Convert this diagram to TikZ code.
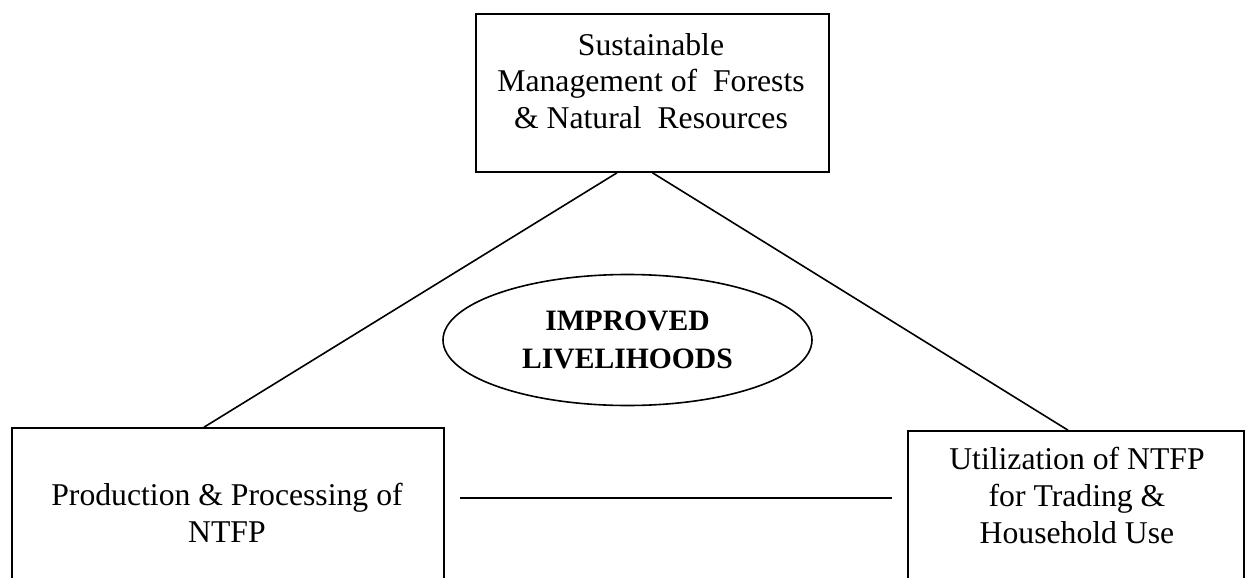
\documentclass[tikz,border=0pt]{standalone}
\usepackage{fontspec}
\setmainfont{Liberation Serif}
\usetikzlibrary{shapes.geometric}

\begin{document}
\begin{tikzpicture}
		[x=0.5pt,y=-0.5pt,line width=0.8pt,
		box/.style={draw,rectangle,inner sep=0pt},
		txt/.style={align=center,inner sep=0pt,font=\fontsize{15.85}{18.4}\selectfont}]
		\useasboundingbox (0,0) rectangle (1249,578);
		\clip (0,0) rectangle (1249,578);
		\node[box,minimum width=176.5pt,minimum height=79pt] (mgmt) at (652.5,93) {};
		\node[box,minimum width=216pt,minimum height=91pt] (prod) at (228,519) {};
		\node[box,minimum width=168pt,minimum height=89.5pt] (util) at (1076,520.5) {};
		\node[draw,ellipse,inner sep=0pt,minimum width=184.5pt,minimum height=65.5pt,
			align=center,font=\fontsize{14.8}{19}\selectfont\bfseries] (liv) at (627.5,340) {IMPROVED\\LIVELIHOODS};
		
		\node[txt] (mgmttext) at (651,81) {Sustainable\\Management of\ \ Forests\\\& Natural\ \ Resources};
		\node[txt] (prodtext) at (227,512.7) {Production \& Processing of\\NTFP};
		\node[txt] (utiltext) at (1077,495.2) {Utilization of NTFP\\for Trading \&\\Household Use};
		
		\draw ([xshift=-17.75pt]mgmt.south) -- ([xshift=-12pt]prod.north);
		\draw (mgmt.south) -- ([xshift=-4pt]util.north);
		\draw[shorten <=7.5pt,shorten >=7.5pt] ([yshift=10.5pt]prod.east) -- ([yshift=10.5pt]prod.east -| util.west);
		\end{tikzpicture}
\end{document}
